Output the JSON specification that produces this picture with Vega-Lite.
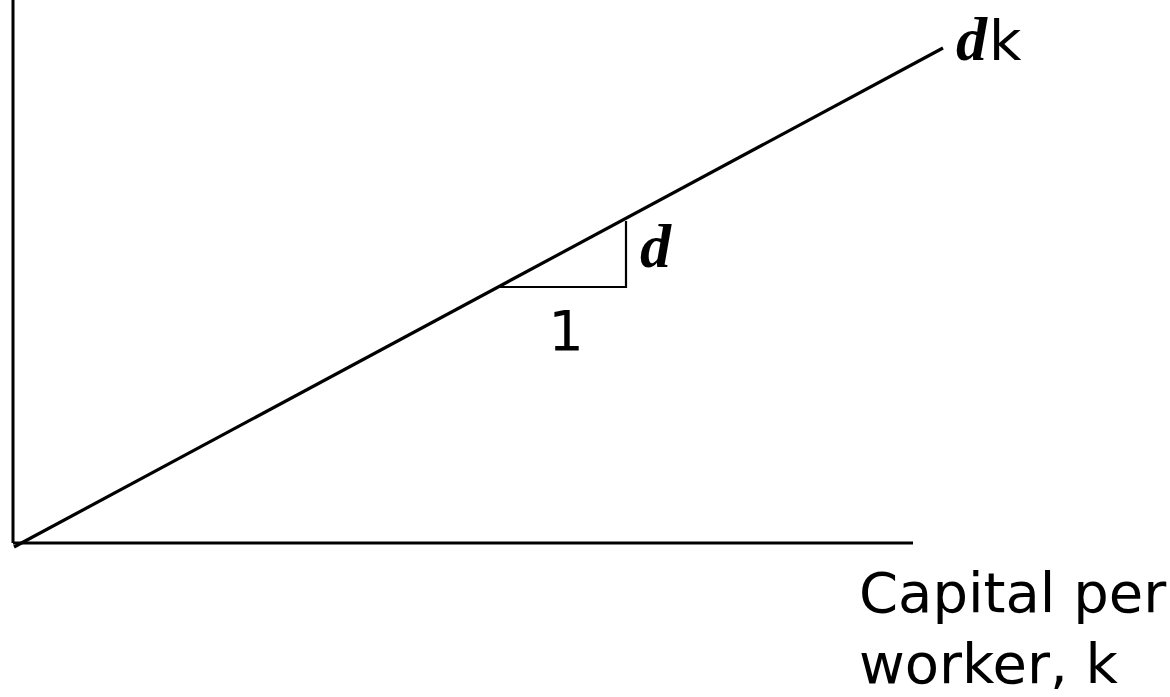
{
  "$schema": "https://vega.github.io/schema/vega-lite/v6.json",
  "width": 1170,
  "height": 697,
  "padding": 0,
  "autosize": {"type": "none"},
  "background": "white",
  "config": {"view": {"stroke": null}},
  "datasets": {
    "axes": [
      {"seg": "yaxis", "k": 0, "v": 0, "o": 0},
      {"seg": "yaxis", "k": 0, "v": 5.43, "o": 1},
      {"seg": "xaxis", "k": 0, "v": 0, "o": 0},
      {"seg": "xaxis", "k": 9.0, "v": 0, "o": 1}
    ],
    "dep": [
      {"k": 0.01, "v": -0.04, "o": 0},
      {"k": 9.30, "v": 4.95, "o": 1}
    ],
    "tri": [
      {"k": 4.87, "v": 2.56, "o": 0},
      {"k": 6.13, "v": 2.56, "o": 1},
      {"k": 6.13, "v": 3.22, "o": 2}
    ],
    "serif": [
      {"label": "d", "k": 9.43, "v": 4.83},
      {"label": "d", "k": 6.27, "v": 2.76}
    ],
    "sansL": [
      {"label": "k", "k": 9.76, "v": 4.83},
      {"label": "Capital per", "k": 8.46, "v": -0.69},
      {"label": "worker, k", "k": 8.46, "v": -1.40}
    ],
    "sansC": [
      {"label": "1", "k": 5.53, "v": 1.93}
    ]
  },
  "layer": [
    {
      "data": {"name": "axes"},
      "mark": {"type": "line", "stroke": "black", "strokeWidth": 3, "strokeCap": "butt"},
      "encoding": {
        "x": {"field": "k", "type": "quantitative", "scale": {"domain": [-0.13, 11.57], "nice": false, "zero": false}, "axis": null},
        "y": {"field": "v", "type": "quantitative", "scale": {"domain": [-1.54, 5.43], "nice": false, "zero": false}, "axis": null},
        "detail": {"field": "seg"},
        "order": {"field": "o"}
      }
    },
    {
      "data": {"name": "dep"},
      "mark": {"type": "line", "stroke": "black", "strokeWidth": 3.2},
      "encoding": {
        "x": {"field": "k", "type": "quantitative"},
        "y": {"field": "v", "type": "quantitative"},
        "order": {"field": "o"}
      }
    },
    {
      "data": {"name": "tri"},
      "mark": {"type": "line", "stroke": "black", "strokeWidth": 2.2},
      "encoding": {
        "x": {"field": "k", "type": "quantitative"},
        "y": {"field": "v", "type": "quantitative"},
        "order": {"field": "o"}
      }
    },
    {
      "data": {"name": "serif"},
      "mark": {"type": "text", "font": "Liberation Serif", "fontStyle": "italic", "fontWeight": "bold", "fontSize": 62, "align": "left", "baseline": "alphabetic", "color": "black"},
      "encoding": {
        "x": {"field": "k", "type": "quantitative"},
        "y": {"field": "v", "type": "quantitative"},
        "text": {"field": "label"}
      }
    },
    {
      "data": {"name": "sansL"},
      "mark": {"type": "text", "font": "DejaVu Sans", "fontSize": 56, "align": "left", "baseline": "alphabetic", "color": "black"},
      "encoding": {
        "x": {"field": "k", "type": "quantitative"},
        "y": {"field": "v", "type": "quantitative"},
        "text": {"field": "label"}
      }
    },
    {
      "data": {"name": "sansC"},
      "mark": {"type": "text", "font": "DejaVu Sans", "fontSize": 56, "align": "center", "baseline": "alphabetic", "color": "black"},
      "encoding": {
        "x": {"field": "k", "type": "quantitative"},
        "y": {"field": "v", "type": "quantitative"},
        "text": {"field": "label"}
      }
    }
  ]
}
